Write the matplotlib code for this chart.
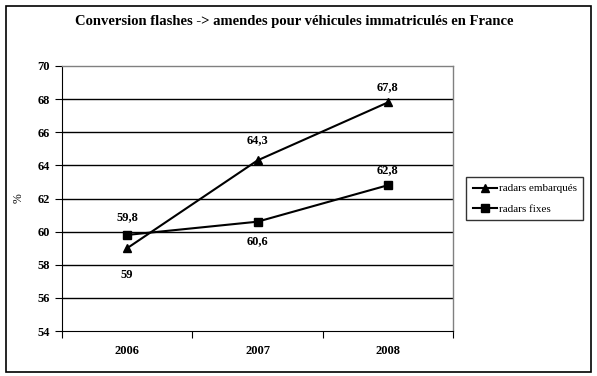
import matplotlib
matplotlib.use("Agg")
import matplotlib.pyplot as plt
from matplotlib.patches import Rectangle

years = ["2006", "2007", "2008"]
embarques = [59, 64.3, 67.8]
fixes = [59.8, 60.6, 62.8]
emb_labels = ["59", "64,3", "67,8"]
fix_labels = ["59,8", "60,6", "62,8"]
yticks = [54, 56, 58, 60, 62, 64, 66, 68, 70]

W, H = 597, 376
fig = plt.figure(figsize=(W / 100, H / 100), dpi=100)
fig.patch.set_facecolor("white")

serif = "Liberation Serif"

# outer border
fig.patches.append(Rectangle((6 / W, 1 - 372 / H), 585 / W, 366 / H,
                             transform=fig.transFigure, fill=False,
                             edgecolor="black", linewidth=1.2))

ax = fig.add_axes([62 / W, 1 - 331 / H, 391 / W, 265 / H])
x = [i + 0.5 for i in range(len(years))]

ax.set_xlim(0, 3)
ax.set_ylim(54, 70)
ax.set_yticks(yticks)
ax.set_yticklabels([str(v) for v in yticks], fontfamily=serif,
                   fontweight="bold", fontsize=9)
ax.set_xticks([0, 1, 2, 3])
ax.set_xticklabels([])
ax.set_xticks(x, minor=True)
ax.set_xticklabels(years, minor=True, fontfamily=serif, fontweight="bold",
                   fontsize=9)
ax.tick_params(axis="x", which="minor", length=0, pad=10)
ax.tick_params(axis="x", which="major", length=5, direction="out",
               width=0.8, color="black")
ax.tick_params(axis="y", length=5, direction="out", width=0.8, pad=4)

for v in yticks[1:-1]:
    ax.axhline(v, color="black", linewidth=1.0, zorder=1)

for s in ["top", "right"]:
    ax.spines[s].set_color("#808080")
    ax.spines[s].set_linewidth(1.0)
ax.spines["left"].set_color("black")
ax.spines["bottom"].set_color("black")

ax.plot(x, embarques, color="black", linewidth=1.5, marker="^",
        markersize=6, label="radars embarqués", zorder=3)
ax.plot(x, fixes, color="black", linewidth=1.5, marker="s",
        markersize=5.5, label="radars fixes", zorder=3)

kw = dict(fontfamily=serif, fontweight="bold", fontsize=9, ha="center",
          va="center")
offsets_emb = [-1.6, 1.2, 0.9]
offsets_fix = [1.1, -1.2, 0.9]
for xi, v, lab, o in zip(x, embarques, emb_labels, offsets_emb):
    ax.text(xi, v + o, lab, **kw)
for xi, v, lab, o in zip(x, fixes, fix_labels, offsets_fix):
    ax.text(xi, v + o, lab, **kw)

ax.set_ylabel("%", fontfamily=serif, fontsize=8.5, rotation=90, labelpad=9)

fig.text(294 / W, 1 - 22 / H,
         "Conversion flashes -> amendes pour véhicules immatriculés en France",
         fontfamily=serif, fontweight="bold", fontsize=10.5, ha="center",
         va="center")

leg = ax.legend(loc="upper left", bbox_to_anchor=(466 / W, 1 - 177 / H),
                bbox_transform=fig.transFigure, frameon=True, fancybox=False,
                edgecolor="black", prop={"family": serif, "size": 8},
                handlelength=2.2, handletextpad=0.15, borderpad=0.6,
                labelspacing=0.95, borderaxespad=0)
leg.get_frame().set_linewidth(1.0)

fig.savefig("out.png", dpi=100, facecolor="white")
